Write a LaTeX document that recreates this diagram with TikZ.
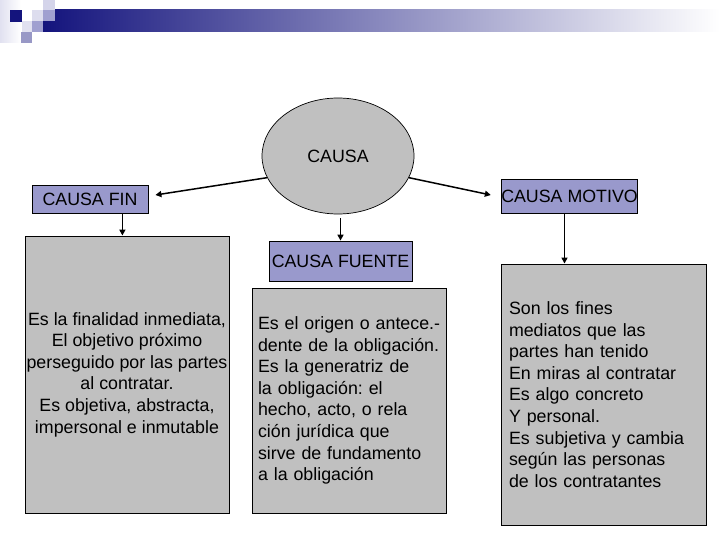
\documentclass[tikz,border=0pt]{standalone}
\usepackage{fontspec}
\setmainfont{Liberation Sans}
\usepackage{tikz}
\usetikzlibrary{arrows.meta,positioning,calc,shapes.geometric}
\definecolor{boxgray}{RGB}{192,192,192}
\definecolor{tagblue}{RGB}{153,153,204}
\definecolor{hdrnavy}{RGB}{20,20,125}
\definecolor{hdrmid}{RGB}{160,160,208}
\definecolor{hdrpale}{RGB}{212,212,234}
\newcommand{\boxfont}{\fontsize{17.8}{21.6}\selectfont}
\frenchspacing
\tikzset{
  tagbox/.style={draw, fill=tagblue, line width=0.8pt, inner sep=0pt, font=\boxfont},
  bodybox/.style={draw, fill=boxgray, line width=0.9pt, inner sep=0pt, font=\boxfont},
  link/.style={-{Triangle[length=6pt,width=6pt]}, line width=1.5pt},
}

\begin{document}
\begin{tikzpicture}[x=1pt, y=-1pt]
    \useasboundingbox (0,0) rectangle (720,540);
    % header bar
    \shade[left color=hdrnavy, middle color={rgb,255:red,155;green,155;blue,180}, right color=white]
      (43,10) rectangle (720,32);
    \shade[left color=hdrpale!70, right color=white] (0,0) rectangle (21,43);
    \fill[hdrpale] (43,0) rectangle (55,10);
    \fill[hdrnavy] (10,10) rectangle (22,22);
    \fill[hdrpale!80] (32,10) rectangle (43,21);
    \fill[hdrmid] (43,10) rectangle (55,21);
    \fill[hdrpale!70] (22,21) rectangle (32,32);
    \fill[hdrmid] (32,21) rectangle (43,32);
    \fill[hdrmid!95!black] (21,32) rectangle (32,43);
    % top: causa
    \node[ellipse, draw, fill=boxgray, line width=0.7pt, minimum width=152, minimum height=116,
      font=\boxfont] (causa) at (338,156) {CAUSA};
    \node[tagbox, minimum width=116, minimum height=28] (fin) at (90,199) {CAUSA FIN};
    \node[tagbox, minimum width=135, minimum height=34] (motivo) at (569.5,196) {CAUSA MOTIVO};
    \node[tagbox, minimum width=143, minimum height=40] (fuente) at (340.5,261) {CAUSA FUENTE};
    % bodies
    \node[bodybox, align=center, minimum width=204, minimum height=277] (finbody) at (127,374.5)
      {Es la finalidad inmediata,\\ El objetivo próximo\\ perseguido por las partes\\
       al contratar.\\ Es objetiva, abstracta,\\ impersonal e inmutable};
    \node[bodybox, align=left, text width=182pt, inner xsep=6pt, minimum height=225] (fuentebody)
      at (349,400.5)
      {\mbox{Es el origen o antece.-}\\ \mbox{dente de la obligación.}\\ Es la generatriz de\\ la obligación: el\\
       hecho, acto, o rela\\ ción jurídica que\\ sirve de fundamento\\ a la obligación};
    \node[bodybox, align=left, text width=189pt, inner xsep=8pt, minimum height=261] (motivobody)
      at (603.5,394.5)
      {Son los fines\\ mediatos que las\\ partes han tenido\\ En miras al contratar\\
       Es algo concreto\\ Y personal.\\ Es subjetiva y cambia\\ según las personas\\ de los contratantes};
    % arrows
    \draw[link] (causa.197) -- ([xshift=7pt,yshift=4pt]fin.east);
    \draw[link] (causa.-17) -- ([xshift=-10pt,yshift=1pt]motivo.west);
    \draw[link] ([yshift=-4pt]causa.south -| fuente.north) -- (fuente.north);
    \draw[link] ([xshift=-26pt]fin.south east) -- ([xshift=-26pt]fin.south east |- finbody.north);
    \draw[link] ([xshift=-5pt]motivo.south) -- ([xshift=-5pt]motivo.south |- motivobody.north);
\end{tikzpicture}
\end{document}
